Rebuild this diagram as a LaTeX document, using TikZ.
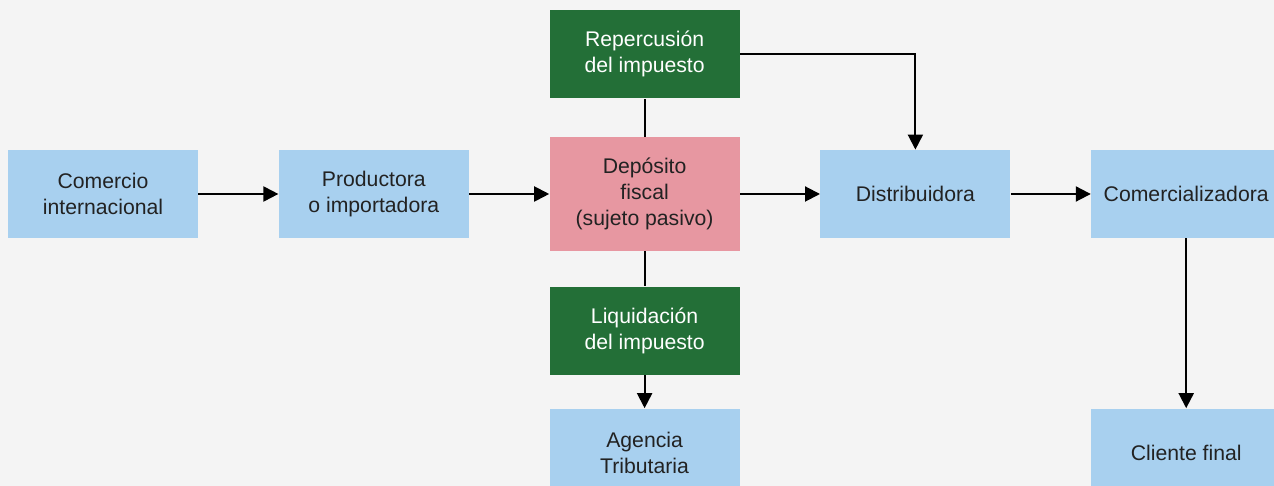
\documentclass[tikz,border=0pt]{standalone}
\usepackage{fontspec}
\setmainfont{Liberation Sans}
\usepackage{tikz}
\usetikzlibrary{arrows.meta, positioning}

\definecolor{boxblue}{HTML}{A8D0EF}
\definecolor{boxgreen}{HTML}{236F37}
\definecolor{boxpink}{HTML}{E797A1}
\definecolor{bggray}{HTML}{F4F4F4}
\definecolor{textgray}{HTML}{222222}

\begin{document}
\begin{tikzpicture}[
        node distance=40pt,
        stage/.style={
            rectangle,
            minimum width=95pt,
            minimum height=44pt,
            inner sep=0pt,
            align=center,
            fill=boxblue,
            text=textgray,
            font=\fontsize{10.6pt}{13pt}\selectfont
        },
        taxstage/.style={
            stage,
            fill=boxgreen,
            text=white
        },
        arrow/.style={
            line width=1pt,
            -{Triangle[length=7.5pt, width=7.5pt]}
        },
        link/.style={
            line width=1pt
        }
    ]

    % Background
    \useasboundingbox (0,0) rectangle (637pt,243pt);
    \fill [bggray] (0,0) rectangle (637pt,243pt);
    \clip (0,0) rectangle (637pt,243pt);

    % Nodes
    \node (comercio) [stage] at (51.5pt,146pt) {Comercio\\internacional};
    \node (productora) [stage, right=of comercio] {Productora\\o importadora};
    \node (deposito) [stage, fill=boxpink, minimum height=57pt, right=of productora] {Depósito\\fiscal\\(sujeto pasivo)};
    \node (distribuidora) [stage, right=of deposito] {Distribuidora};
    \node (comercializadora) [stage, right=of distribuidora] {Comercializadora};
    \node (repercusion) [taxstage, above=19pt of deposito] {Repercusión\\del impuesto};
    \node (liquidacion) [taxstage, below=17.5pt of deposito] {Liquidación\\del impuesto};
    \node (agencia) [stage, below=16.5pt of liquidacion] {Agencia\\Tributaria};
    \node (cliente) [stage] at (comercializadora |- agencia) {Cliente final};

    % Arrows
    \draw [arrow] (comercio) -- (productora);
    \draw [arrow] (productora) -- (deposito);
    \draw [arrow] (deposito) -- (distribuidora);
    \draw [arrow] (distribuidora) -- (comercializadora);
    \draw [arrow] (repercusion) -| (distribuidora);
    \draw [link] (deposito) -- (repercusion);
    \draw [link] (deposito) -- (liquidacion);
    \draw [arrow] (liquidacion) -- (agencia);
    \draw [arrow] (comercializadora) -- (cliente);

\end{tikzpicture}
\end{document}
